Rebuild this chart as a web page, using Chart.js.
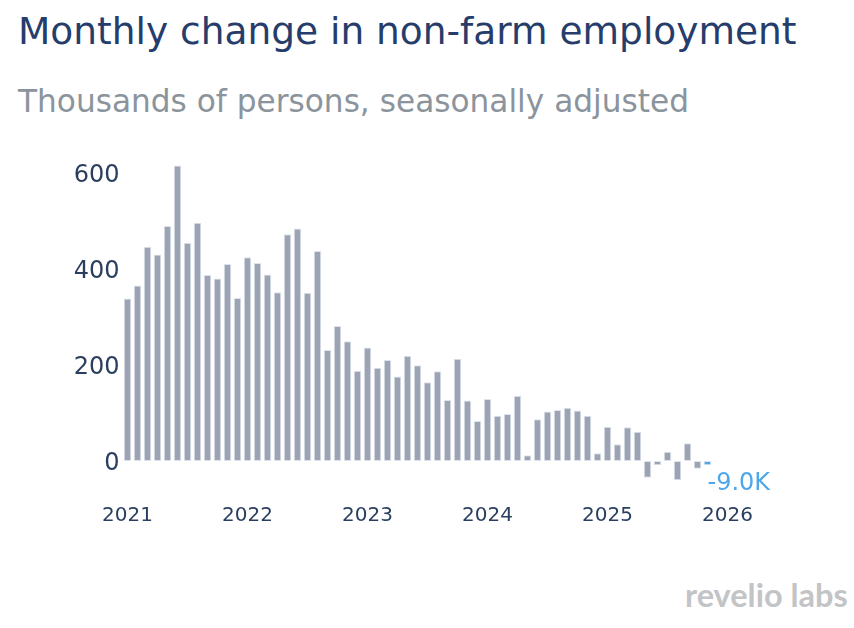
<!DOCTYPE html>
<html>
<head>
<meta charset="utf-8">
<script src="https://cdn.jsdelivr.net/npm/chart.js@4.4.1/dist/chart.umd.min.js"></script>
<style>
  html, body { margin: 0; padding: 0; background: #ffffff; }
  body { width: 854px; height: 628px; position: relative; overflow: hidden; font-family: "DejaVu Sans", Verdana, sans-serif; }
  #title { position: absolute; left: 18px; top: 10px; font-size: 37.5px; line-height: 42px; color: #263d6c; white-space: nowrap; }
  #subtitle { position: absolute; left: 18px; top: 83px; font-size: 31.2px; line-height: 36px; color: #8b949c; white-space: nowrap; }
  #logo { position: absolute; left: 685px; top: 576px; font-family: "Lato", sans-serif; font-weight: 700; font-size: 32.5px; line-height: 38px; color: #c3c4c6; white-space: nowrap; }
  #wrap { position: absolute; left: 0; top: 122px; width: 854px; height: 420px; }
</style>
</head>
<body>
<div id="title">Monthly change in non-farm employment</div>
<div id="subtitle">Thousands of persons, seasonally adjusted</div>
<div id="wrap"><canvas id="chart"></canvas></div>
<div id="logo">revelio labs</div>
<script>
// months Jan 2021 .. Nov 2025, then empty slots to the right edge
const months = [];
for (let y = 2021; y <= 2026; y++) {
  for (let m = 1; m <= 12; m++) months.push(y + "-" + String(m).padStart(2, "0"));
}
const categories = months.slice(0, 62);

// thousands of persons
const jobs2021 = [338, 365, 446, 430, 489, 615, 454, 496, 387, 380, 410, 339];
const jobs2022 = [424, 412, 388, 351, 472, 484, 350, 437, 231, 281, 249, 188];
const jobs2023 = [236, 194, 210, 176, 219, 199, 164, 187, 127, 213, 126, 83];
const jobs2024 = [129, 94, 98, 136, 12, 87, 103, 106, 111, 105, 94, 16];
const jobs2025 = [71, 35, 70, 61, -35, -9, 19, -40, 37, -16, -9];

const values = [...jobs2021, ...jobs2022, ...jobs2023, ...jobs2024, ...jobs2025];
const lastIndex = values.length - 1;
while (values.length < categories.length) values.push(null);

const yTicks = [0, 200, 400, 600];

const barColor = "#9ca3b3";
const latestColor = "#4ea7ea";
const colors = values.map((v, i) => (i === lastIndex ? latestColor : barColor));

// label next to the latest bar
const latestLabel = {
  id: "latestLabel",
  afterDatasetsDraw(chart) {
    const x = chart.scales.x.getPixelForValue(lastIndex);
    const y = chart.scales.y.getPixelForValue(values[lastIndex]);
    const ctx = chart.ctx;
    ctx.save();
    ctx.font = '24px "DejaVu Sans", Verdana, sans-serif';
    ctx.fillStyle = latestColor;
    ctx.textAlign = "left";
    ctx.textBaseline = "middle";
    ctx.fillText((values[lastIndex]).toFixed(1) + "K", x, y + 18);
    ctx.restore();
  }
};

new Chart(document.getElementById("chart"), {
  type: "bar",
  plugins: [latestLabel],
  data: {
    labels: categories,
    datasets: [{
      data: values,
      backgroundColor: colors,
      borderColor: "#dfe4ee",
      borderWidth: 1,
      borderSkipped: false,
      categoryPercentage: 1,
      barPercentage: 0.76
    }]
  },
  options: {
    responsive: true,
    maintainAspectRatio: false,
    animation: false,
    layout: { padding: { left: 0, right: 111.5, top: 26.7, bottom: 0 } },
    plugins: { legend: { display: false }, tooltip: { enabled: false } },
    scales: {
      x: {
        grid: { display: false, drawTicks: false },
        border: { display: false },
        ticks: {
          autoSkip: false,
          maxRotation: 0,
          padding: 19,
          color: "#2a3f5f",
          font: { family: '"DejaVu Sans", Verdana, sans-serif', size: 20 },
          callback: (v, i) => (i % 12 === 0 ? categories[i].slice(0, 4) : "")
        },
        afterFit: (scale) => { scale.height = 57; }
      },
      y: {
        min: -50,
        max: 650,
        grid: { display: false, drawTicks: false },
        border: { display: false },
        afterBuildTicks: (scale) => { scale.ticks = yTicks.map((v) => ({ value: v })); },
        ticks: {
          padding: 3,
          labelOffset: 3,
          color: "#2a3f5f",
          font: { family: '"DejaVu Sans", Verdana, sans-serif', size: 24 }
        },
        afterFit: (scale) => { scale.width = 122.5; }
      }
    }
  }
});
</script>
</body>
</html>
